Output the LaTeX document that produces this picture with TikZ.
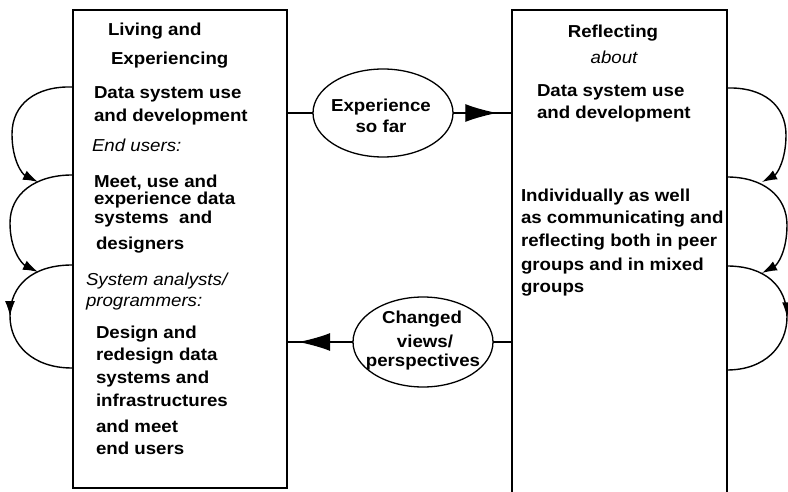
\documentclass[tikz,border=0pt]{standalone}
\usepackage{fontspec}
\setmainfont{Liberation Sans}[FakeStretch=1.08]
\usetikzlibrary{arrows.meta,shapes.geometric,decorations.markings}

\begin{document}
\begin{tikzpicture}[x=1pt, y=-1pt,
    every node/.style={inner sep=0pt, outer sep=0pt},
    txt/.style={anchor=base west, font=\fontsize{17.3}{20}\selectfont\bfseries},
    ital/.style={anchor=base west, font=\fontsize{17.3}{20}\selectfont\itshape},
    boxframe/.style={draw, line width=1.8pt},
    bubble/.style={draw, ellipse, line width=1.3pt, minimum width=140pt, minimum height=88pt},
    link/.style={line width=1.4pt},
    bigtip/.style={postaction={decorate}, decoration={markings, mark=at position #1 with {\arrow{Latex[length=32pt,width=18pt]}}}},
    looptip/.style={-{Latex[length=15pt,width=10pt]}},
    loopmid/.style={postaction={decorate}, decoration={markings, mark=at position 0.5 with {\arrow{Latex[length=15pt,width=10pt]}}}}]
    \useasboundingbox (0,0) rectangle (788,492);

    % the two boxes
    \node[boxframe, minimum width=214pt, minimum height=478pt] (live) at (180,249) {};
    \node[boxframe, minimum width=215pt, minimum height=500pt] (reflect) at (619.5,260) {};

    % left box text
    \node[txt] (liv1) at (108,36) {Living and};
    \node[txt] (liv2) at (111,65) {Experiencing};
    \node[txt] (ldat1) at (94,99) {Data system use};
    \node[txt] (ldat2) at (94,122) {and development};
    \node[ital] (lend) at (92,152) {End users:};
    \node[txt] (lmeet1) at (94,188) {Meet, use and};
    \node[txt] (lmeet2) at (94,205) {experience data};
    \node[txt] (lmeet3) at (94,224) {systems\ \ and};
    \node[txt] (lmeet4) at (96,249) {designers};
    \node[ital] (lsys1) at (86,285) {System analysts/};
    \node[ital] (lsys2) at (86,306) {programmers:};
    \node[txt] (ldes1) at (96,338) {Design and};
    \node[txt] (ldes2) at (96,360) {redesign data};
    \node[txt] (ldes3) at (96,383) {systems and};
    \node[txt] (ldes4) at (96,406) {infrastructures};
    \node[txt] (ldes5) at (96,432) {and meet};
    \node[txt] (ldes6) at (96,454) {end users};

    % right box text
    \node[txt, anchor=base] (rref) at (613,38) {Reflecting};
    \node[ital, anchor=base] (rabout) at (614,64) {about};
    \node[txt] (rdat1) at (537,97) {Data system use};
    \node[txt] (rdat2) at (537,119) {and development};
    \node[txt] (rind1) at (521,202) {Individually as well};
    \node[txt] (rind2) at (521,224) {as communicating and};
    \node[txt] (rind3) at (521,247) {reflecting both in peer};
    \node[txt] (rind4) at (521,270) {groups and in mixed};
    \node[txt] (rind5) at (521,292) {groups};

    % ellipses
    \node[bubble] (sofar) at (383,113) {};
    \node[txt, anchor=base] (sofar1) at (381,112) {Experience};
    \node[txt, anchor=base] (sofar2) at (381,133) {so far};
    \node[bubble, minimum height=90pt] (changed) at (423,342) {};
    \node[txt, anchor=base] (chg1) at (422,323) {Changed};
    \node[txt, anchor=base] (chg2) at (425,347) {views/};
    \node[txt, anchor=base] (chg3) at (423,366) {perspectives};

    \draw[link] (live.east |- sofar) -- (sofar.west);
    \draw[link, bigtip=0.75] (sofar.east) -- (reflect.west |- sofar);
    \draw[link] (reflect.west |- changed) -- (changed.east);
    \draw[link, bigtip=0.83] (changed.west) -- (live.east |- changed);

    % loops on the left
    \coordinate (la) at (72,87);
    \coordinate (lb) at (72,175);
    \coordinate (lc) at (72,265);
    \coordinate (lc2) at (72,368);
    \draw[link, looptip] (la) .. controls (36,86) and (12,104) .. (12,134)
        .. controls (12,160) and (22,174) .. (38,182);
    \draw[link, looptip] (lb) .. controls (35,175) and (10,194) .. (10,223)
        .. controls (10,250) and (22,264) .. (38,272);
    \draw[link, loopmid] (lc) .. controls (33,265) and (10,285) .. (10,316)
        .. controls (10,345) and (33,368) .. (lc2);

    % loops on the right
    \coordinate (ra) at (727,88);
    \coordinate (rb) at (727,177);
    \coordinate (rc) at (727,266);
    \coordinate (rc2) at (727,370);
    \draw[link, looptip] (ra) .. controls (763,87) and (786,105) .. (786,135)
        .. controls (786,160) and (777,174) .. (762,182);
    \draw[link, looptip] (rb) .. controls (763,177) and (787,196) .. (787,225)
        .. controls (787,252) and (777,265) .. (762,273);
    \draw[link, loopmid] (rc) .. controls (765,266) and (787,286) .. (787,317)
        .. controls (787,346) and (765,370) .. (rc2);
\end{tikzpicture}
\end{document}
